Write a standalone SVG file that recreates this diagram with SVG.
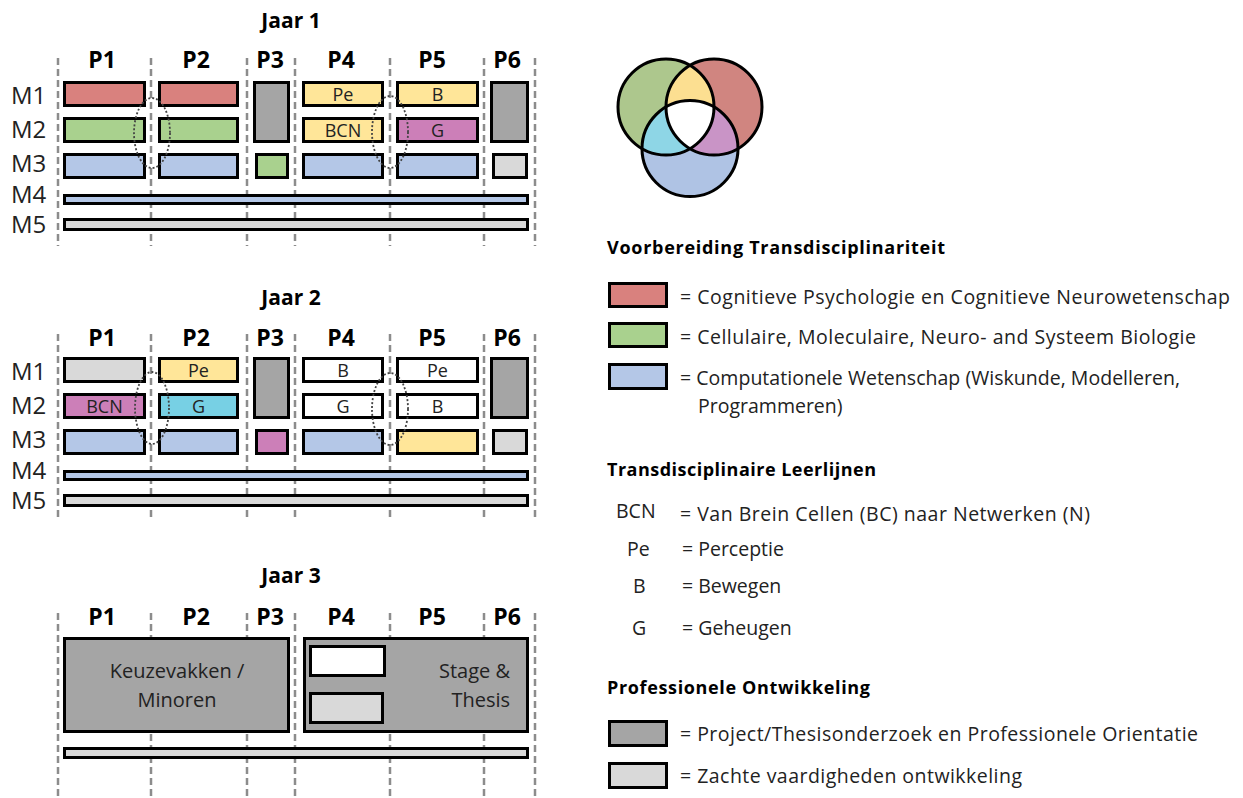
<svg xmlns="http://www.w3.org/2000/svg" width="1243" height="798" viewBox="0 0 1243 798">
<style>
text{font-family:"Open Sans","Liberation Sans",sans-serif;fill:#222}
.t{font-weight:bold;font-size:21px;fill:#000;text-anchor:middle}
.p{font-weight:bold;font-size:23px;fill:#000;text-anchor:middle}
.m{font-size:24px}
.bl{font-size:18px;text-anchor:middle}
.lg{font-size:19.5px}
.h{font-weight:bold;font-size:18px;fill:#000}
.b{stroke:#000;stroke-width:3}
.red{fill:#D9817E}.grn{fill:#A9D18E}.blu{fill:#B4C7E7}.yel{fill:#FFE699}.mag{fill:#CC7FB8}.cya{fill:#77D0E4}.dg{fill:#A5A5A5}.lgr{fill:#D9D9D9}.wh{fill:#fff}
.dash{stroke:#8C8C8C;stroke-width:2.5;stroke-dasharray:7 4;fill:none}
.ell{stroke:#444;stroke-width:1.8;stroke-dasharray:2 2;fill:none}
</style>
<defs>
<clipPath id="cG"><circle cx="666" cy="107" r="48"/></clipPath>
<clipPath id="cR"><circle cx="714" cy="107" r="48"/></clipPath>
<clipPath id="cB"><circle cx="690" cy="148.6" r="48"/></clipPath>
</defs>
<rect width="1243" height="798" fill="#fff"/>

<g id="gridlines">
<g class="dash">
<path d="M58 58V246M151 58V246M247 58V246M295 58V246M390 58V246M484 58V246M535 58V246"/>
<path d="M58 334V521M151 334V521M247 334V521M295 334V521M390 334V521M484 334V521M535 334V521"/>
<path d="M58 613V798M151 613V798M247 613V798M295 613V798M390 613V798M484 613V798M535 613V798"/>
</g>
</g>

<g id="jaar1">
<text class="t" x="291" y="28">Jaar 1</text>
<text class="p" x="102" y="68">P1</text><text class="p" x="196" y="68">P2</text><text class="p" x="270" y="68">P3</text><text class="p" x="341" y="68">P4</text><text class="p" x="432" y="68">P5</text><text class="p" x="507" y="68">P6</text>
<text class="m" x="11" y="104">M1</text><text class="m" x="11" y="138">M2</text><text class="m" x="11" y="172">M3</text><text class="m" x="11" y="203">M4</text><text class="m" x="11" y="233">M5</text>
<g id="j1-m1p1"><rect class="b red" x="64.5" y="82.5" width="80" height="23"/></g>
<g id="j1-m1p2"><rect class="b red" x="159.5" y="82.5" width="78" height="23"/></g>
<g id="j1-p3"><rect class="b dg" x="254.5" y="82.5" width="34" height="59"/></g>
<g id="j1-m1p4"><rect class="b yel" x="303.5" y="82.5" width="79" height="23"/><text class="bl" x="343" y="101">Pe</text></g>
<g id="j1-m1p5"><rect class="b yel" x="397.5" y="82.5" width="80" height="23"/><text class="bl" x="437.5" y="101">B</text></g>
<g id="j1-p6"><rect class="b dg" x="491.5" y="82.5" width="36" height="59"/></g>
<g id="j1-m2p1"><rect class="b grn" x="64.5" y="118.5" width="80" height="23"/></g>
<g id="j1-m2p2"><rect class="b grn" x="159.5" y="118.5" width="78" height="23"/></g>
<g id="j1-m2p4"><rect class="b yel" x="303.5" y="118.5" width="79" height="23"/><text class="bl" x="343" y="137">BCN</text></g>
<g id="j1-m2p5"><rect class="b mag" x="397.5" y="118.5" width="80" height="23"/><text class="bl" x="437.5" y="137">G</text></g>
<g id="j1-m3p1"><rect class="b blu" x="64.5" y="154.5" width="80" height="23"/></g>
<g id="j1-m3p2"><rect class="b blu" x="159.5" y="154.5" width="78" height="23"/></g>
<g id="j1-m3p3"><rect class="b grn" x="256.5" y="154.5" width="31" height="23"/></g>
<g id="j1-m3p4"><rect class="b blu" x="303.5" y="154.5" width="79" height="23"/></g>
<g id="j1-m3p5"><rect class="b blu" x="397.5" y="154.5" width="80" height="23"/></g>
<g id="j1-m3p6"><rect class="b lgr" x="493.5" y="154.5" width="33" height="23"/></g>
<g id="j1-m4"><rect class="b blu" x="64.5" y="195.5" width="463" height="8"/></g>
<g id="j1-m5"><rect class="b lgr" x="64.5" y="219.5" width="463" height="10"/></g>
</g>

<g id="jaar2">
<text class="t" x="291" y="305">Jaar 2</text>
<text class="p" x="102" y="346">P1</text><text class="p" x="196" y="346">P2</text><text class="p" x="270" y="346">P3</text><text class="p" x="341" y="346">P4</text><text class="p" x="432" y="346">P5</text><text class="p" x="507" y="346">P6</text>
<text class="m" x="11" y="380">M1</text><text class="m" x="11" y="414">M2</text><text class="m" x="11" y="448">M3</text><text class="m" x="11" y="479">M4</text><text class="m" x="11" y="509">M5</text>
<g id="j2-m1p1"><rect class="b lgr" x="64.5" y="358.5" width="80" height="23"/></g>
<g id="j2-m1p2"><rect class="b yel" x="159.5" y="358.5" width="78" height="23"/><text class="bl" x="198.5" y="377">Pe</text></g>
<g id="j2-p3"><rect class="b dg" x="254.5" y="358.5" width="34" height="59"/></g>
<g id="j2-m1p4"><rect class="b wh" x="303.5" y="358.5" width="79" height="23"/><text class="bl" x="343" y="377">B</text></g>
<g id="j2-m1p5"><rect class="b wh" x="397.5" y="358.5" width="80" height="23"/><text class="bl" x="437.5" y="377">Pe</text></g>
<g id="j2-p6"><rect class="b dg" x="491.5" y="358.5" width="36" height="59"/></g>
<g id="j2-m2p1"><rect class="b mag" x="64.5" y="394.5" width="80" height="23"/><text class="bl" x="104.5" y="413">BCN</text></g>
<g id="j2-m2p2"><rect class="b cya" x="159.5" y="394.5" width="78" height="23"/><text class="bl" x="198.5" y="413">G</text></g>
<g id="j2-m2p4"><rect class="b wh" x="303.5" y="394.5" width="79" height="23"/><text class="bl" x="343" y="413">G</text></g>
<g id="j2-m2p5"><rect class="b wh" x="397.5" y="394.5" width="80" height="23"/><text class="bl" x="437.5" y="413">B</text></g>
<g id="j2-m3p1"><rect class="b blu" x="64.5" y="430.5" width="80" height="23"/></g>
<g id="j2-m3p2"><rect class="b blu" x="159.5" y="430.5" width="78" height="23"/></g>
<g id="j2-m3p3"><rect class="b mag" x="256.5" y="430.5" width="31" height="23"/></g>
<g id="j2-m3p4"><rect class="b blu" x="303.5" y="430.5" width="79" height="23"/></g>
<g id="j2-m3p5"><rect class="b yel" x="397.5" y="430.5" width="80" height="23"/></g>
<g id="j2-m3p6"><rect class="b lgr" x="493.5" y="430.5" width="33" height="23"/></g>
<g id="j2-m4"><rect class="b blu" x="64.5" y="471.5" width="463" height="8"/></g>
<g id="j2-m5"><rect class="b lgr" x="64.5" y="495.5" width="463" height="10"/></g>
</g>

<g id="jaar3">
<text class="t" x="291" y="583">Jaar 3</text>
<text class="p" x="102" y="625">P1</text><text class="p" x="196" y="625">P2</text><text class="p" x="270" y="625">P3</text><text class="p" x="341" y="625">P4</text><text class="p" x="432" y="625">P5</text><text class="p" x="507" y="625">P6</text>
<g id="j3-keuze"><rect class="b dg" x="64.5" y="638.5" width="224" height="93"/>
<text x="177" y="678" font-size="20" text-anchor="middle">Keuzevakken /</text>
<text x="177" y="707" font-size="20" text-anchor="middle">Minoren</text></g>
<g id="j3-stage"><rect class="b dg" x="304.5" y="638.5" width="223" height="93"/>
<text x="510" y="678" font-size="20" text-anchor="end">Stage &amp;</text>
<text x="510" y="707" font-size="20" text-anchor="end">Thesis</text></g>
<g id="j3-inner1"><rect class="b wh" x="310.5" y="646.5" width="74" height="29"/></g>
<g id="j3-inner2"><rect class="b lgr" x="310.5" y="693.5" width="72" height="29"/></g>
<g id="j3-bar"><rect class="b lgr" x="64.5" y="748.5" width="463" height="9"/></g>
</g>

<g id="links">
<ellipse class="ell" cx="152" cy="133" rx="18" ry="35"/>
<ellipse class="ell" cx="390" cy="132" rx="18" ry="36"/>
<ellipse class="ell" cx="152" cy="408" rx="17" ry="36"/>
<ellipse class="ell" cx="390" cy="409" rx="18" ry="36"/>
</g>

<g id="venn">
<circle cx="666" cy="107" r="48" fill="#ADC78D"/>
<circle cx="714" cy="107" r="48" fill="#D08580"/>
<circle cx="690" cy="148.6" r="48" fill="#AFC3E4"/>
<circle cx="714" cy="107" r="48" fill="#FCDF91" clip-path="url(#cG)"/>
<circle cx="690" cy="148.6" r="48" fill="#8ED6E6" clip-path="url(#cG)"/>
<circle cx="690" cy="148.6" r="48" fill="#C994C6" clip-path="url(#cR)"/>
<g clip-path="url(#cG)"><circle cx="690" cy="148.6" r="48" fill="#fff" clip-path="url(#cR)"/></g>
<g fill="none" stroke="#000" stroke-width="3">
<circle cx="666" cy="107" r="48"/><circle cx="714" cy="107" r="48"/><circle cx="690" cy="148.6" r="48"/>
</g>
</g>

<g id="legend">
<text class="h" x="607" y="254" textLength="338">Voorbereiding Transdisciplinariteit</text>
<g id="lg-red"><rect class="b red" x="609.5" y="283.5" width="57" height="23"/><text class="lg" x="680" y="304" textLength="550">= Cognitieve Psychologie en Cognitieve Neurowetenschap</text></g>
<g id="lg-grn"><rect class="b grn" x="609.5" y="323.5" width="57" height="23"/><text class="lg" x="680" y="344" textLength="516">= Cellulaire, Moleculaire, Neuro- and Systeem Biologie</text></g>
<g id="lg-blu"><rect class="b blu" x="609.5" y="364.5" width="57" height="24"/><text class="lg" x="680" y="385" textLength="500">= Computationele Wetenschap (Wiskunde, Modelleren,</text>
<text class="lg" x="698" y="413">Programmeren)</text></g>
<text class="h" x="607" y="476" textLength="269">Transdisciplinaire Leerlijnen</text>
<g id="lg-bcn"><text class="lg" x="616" y="518">BCN</text><text class="lg" x="680" y="521" textLength="410">= Van Brein Cellen (BC) naar Netwerken (N)</text></g>
<g id="lg-pe"><text class="lg" x="627" y="556">Pe</text><text class="lg" x="682" y="556">= Perceptie</text></g>
<g id="lg-b"><text class="lg" x="633" y="593">B</text><text class="lg" x="682" y="593">= Bewegen</text></g>
<g id="lg-g"><text class="lg" x="632" y="635">G</text><text class="lg" x="682" y="635">= Geheugen</text></g>
<text class="h" x="607" y="694" textLength="263">Professionele Ontwikkeling</text>
<g id="lg-dg"><rect class="b dg" x="609.5" y="721.5" width="57" height="24"/><text class="lg" x="680" y="741" textLength="518">= Project/Thesisonderzoek en Professionele Orientatie</text></g>
<g id="lg-lg"><rect class="b lgr" x="609.5" y="763.5" width="57" height="24"/><text class="lg" x="680" y="783" textLength="342">= Zachte vaardigheden ontwikkeling</text></g>
</g>
</svg>
